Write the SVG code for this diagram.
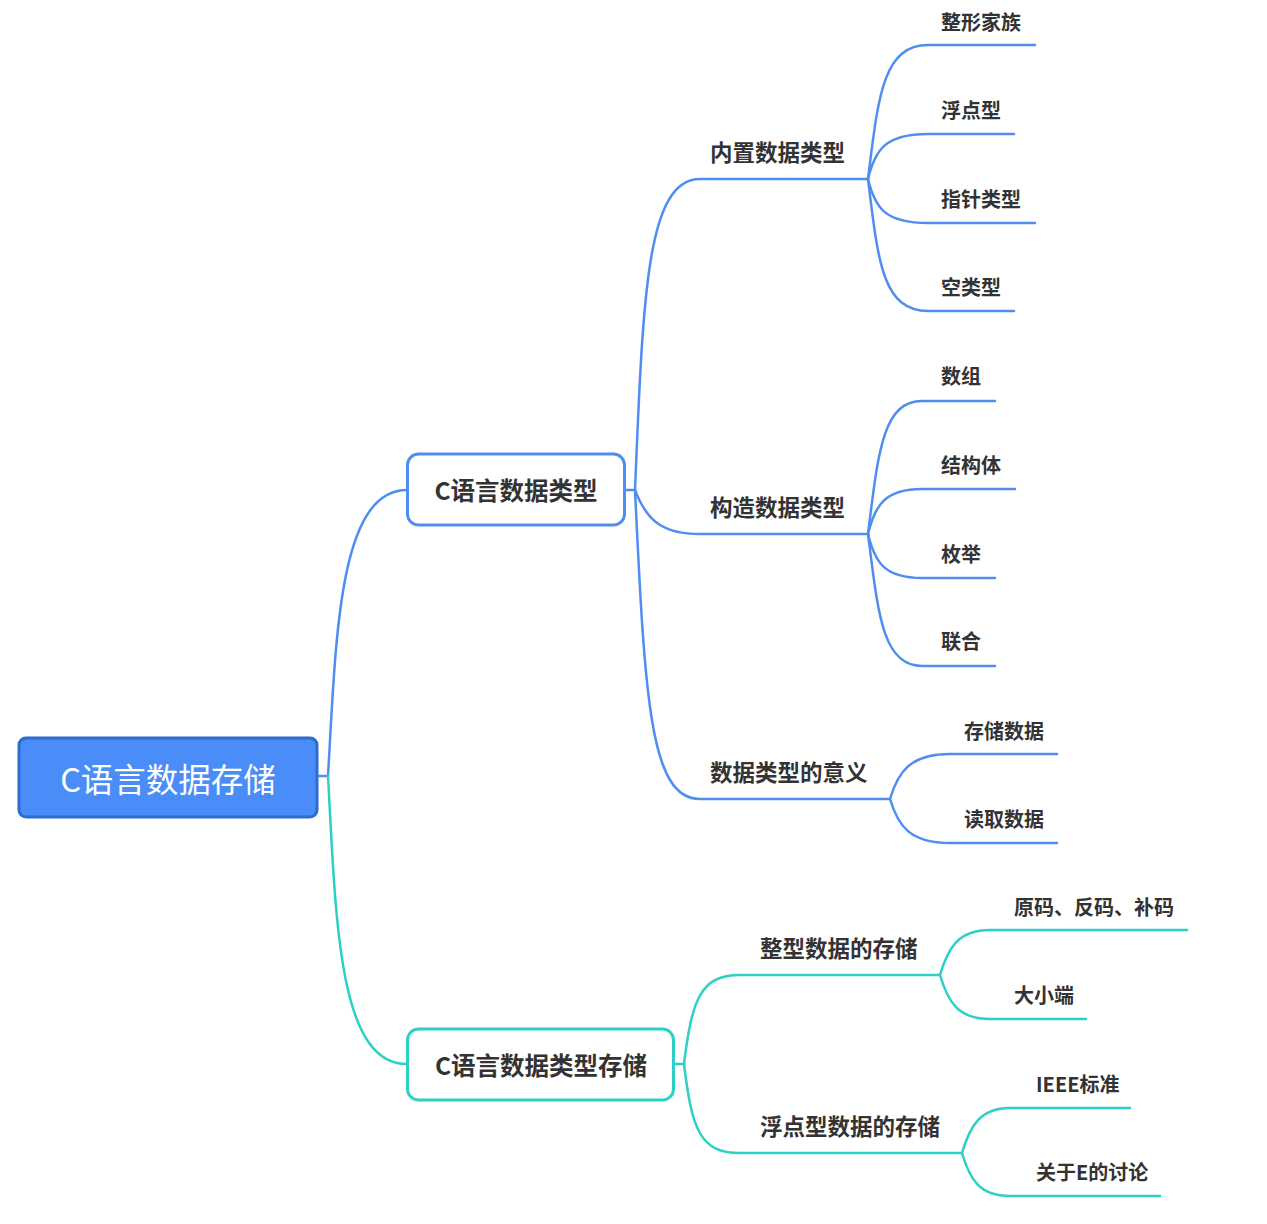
<svg xmlns="http://www.w3.org/2000/svg" width="1267" height="1224" viewBox="0 0 1267 1224">
<style>
text{font-family:"Noto Sans CJK SC","Noto Sans",sans-serif;fill:#333333;}
.lv1{font-size:24.5px;font-weight:700;text-anchor:middle;}
.lv2{font-size:22.5px;font-weight:700;}
.lf{font-size:20px;font-weight:700;}
.root{font-size:32.5px;font-weight:400;fill:#ffffff;text-anchor:middle;}
.cb{fill:none;stroke:#4f8ef0;stroke-width:2.5;stroke-linecap:round;stroke-linejoin:round;}
.ct{fill:none;stroke:#2dd0c4;stroke-width:2.5;stroke-linecap:round;stroke-linejoin:round;}
</style>
<rect width="1267" height="1224" fill="#ffffff"/>
<g id="connectors">
<path class="cb" d="M318,776 H328 C336,640 338,490 407,490"/>
<path class="ct" d="M328,776 C336,920 338,1064 407,1064"/>
<path class="cb" d="M625,490 H635 C643,300 646,179 700,179 H868"/>
<path class="cb" d="M635,490 C647,522 664,534 700,534 H868"/>
<path class="cb" d="M635,490 C645,700 650,799 700,799 H890"/>
<path class="cb" d="M868,179 C878,100 882,45 928,45 H1035"/>
<path class="cb" d="M868,179 C875,150 885,134 928,134 H1014"/>
<path class="cb" d="M868,179 C875,208 885,223 928,223 H1035"/>
<path class="cb" d="M868,179 C878,260 882,311 928,311 H1014"/>
<path class="cb" d="M868,534 C878,455 882,401 922,401 H995"/>
<path class="cb" d="M868,534 C875,505 885,489 922,489 H1015"/>
<path class="cb" d="M868,534 C875,563 885,578 922,578 H995"/>
<path class="cb" d="M868,534 C878,612 882,666 922,666 H995"/>
<path class="cb" d="M890,799 C898,772 910,754 950,754 H1057"/>
<path class="cb" d="M890,799 C898,826 910,843 950,843 H1057"/>
<path class="ct" d="M674,1064 H684 C692,1000 700,975 740,975 H940"/>
<path class="ct" d="M684,1064 C692,1130 700,1153 740,1153 H962"/>
<path class="ct" d="M940,975 C948,948 958,930 990,930 H1187"/>
<path class="ct" d="M940,975 C948,1002 958,1019 990,1019 H1086"/>
<path class="ct" d="M962,1153 C970,1126 980,1108 1010,1108 H1130"/>
<path class="ct" d="M962,1153 C970,1180 980,1196 1010,1196 H1160"/>
</g>
<g id="root">
<rect x="19" y="738" width="298" height="79" rx="7" fill="#4a8df8" stroke="#2d6cd0" stroke-width="3"/>
<text class="root" x="168" y="792">C语言数据存储</text>
</g>
<g id="n-types">
<rect x="407.5" y="454" width="217" height="71" rx="11" fill="#ffffff" stroke="#4f8ef0" stroke-width="3"/>
<text class="lv1" x="516" y="500">C语言数据类型</text>
</g>
<g id="n-storage">
<rect x="407.5" y="1029" width="266" height="71" rx="11" fill="#ffffff" stroke="#2dd0c4" stroke-width="3"/>
<text class="lv1" x="541" y="1075">C语言数据类型存储</text>
</g>
<g id="n-builtin"><text class="lv2" x="710" y="161">内置数据类型</text></g>
<g id="n-construct"><text class="lv2" x="710" y="516">构造数据类型</text></g>
<g id="n-meaning"><text class="lv2" x="710" y="781">数据类型的意义</text></g>
<g id="n-int-store"><text class="lv2" x="760" y="957">整型数据的存储</text></g>
<g id="n-float-store"><text class="lv2" x="760" y="1135">浮点型数据的存储</text></g>
<g id="n-int-family"><text class="lf" x="941" y="30">整形家族</text></g>
<g id="n-float"><text class="lf" x="941" y="118">浮点型</text></g>
<g id="n-pointer"><text class="lf" x="941" y="207">指针类型</text></g>
<g id="n-void"><text class="lf" x="941" y="295">空类型</text></g>
<g id="n-array"><text class="lf" x="941" y="384">数组</text></g>
<g id="n-struct"><text class="lf" x="941" y="473">结构体</text></g>
<g id="n-enum"><text class="lf" x="941" y="562">枚举</text></g>
<g id="n-union"><text class="lf" x="941" y="649">联合</text></g>
<g id="n-store-data"><text class="lf" x="964" y="739">存储数据</text></g>
<g id="n-read-data"><text class="lf" x="964" y="827">读取数据</text></g>
<g id="n-codes"><text class="lf" x="1014" y="915">原码、反码、补码</text></g>
<g id="n-endian"><text class="lf" x="1014" y="1003">大小端</text></g>
<g id="n-ieee"><text class="lf" x="1036" y="1092">IEEE标准</text></g>
<g id="n-e"><text class="lf" x="1036" y="1180">关于E的讨论</text></g>
</svg>
